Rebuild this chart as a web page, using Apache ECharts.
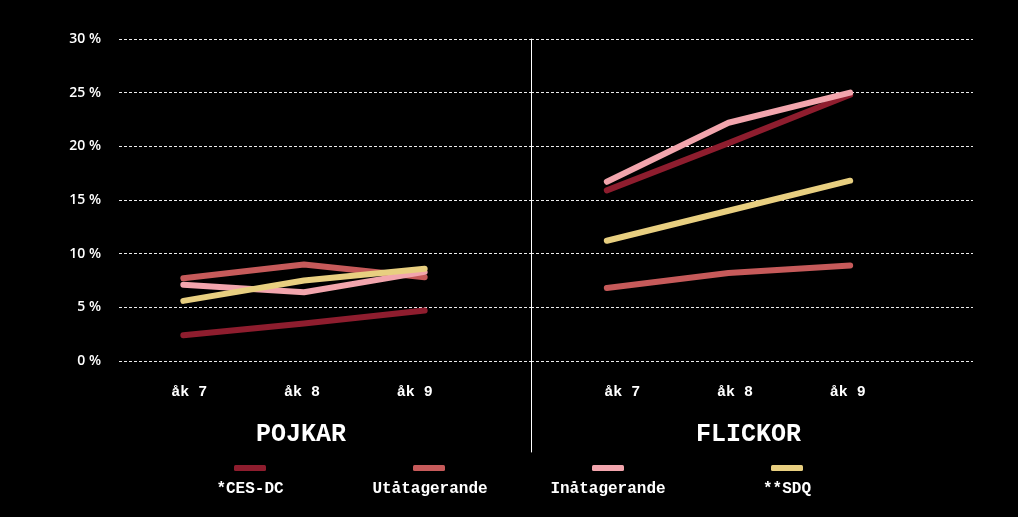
<!DOCTYPE html>
<html>
<head>
<meta charset="utf-8">
<script src="https://cdn.jsdelivr.net/npm/echarts@6/dist/echarts.min.js"></script>
<style>
  html, body { margin: 0; padding: 0; background: #000; }
  #chart { width: 1018px; height: 517px; }
</style>
</head>
<body>
<div id="chart"></div>
<script>
const categories = ['åk 7', 'åk 8', 'åk 9']
const seriesNames = ['*CES-DC', 'Utåtagerande', 'Inåtagerande', '**SDQ']
const panelTitles = ['POJKAR', 'FLICKOR']

// percent values
const boysCes = [2.4, 3.5, 4.7]
const boysUt = [7.7, 9.0, 7.8]
const boysIn = [7.1, 6.4, 8.3]
const boysSdq = [5.6, 7.5, 8.6]

const girlsCes = [15.9, 20.3, 24.8]
const girlsUt = [6.8, 8.2, 8.9]
const girlsIn = [16.7, 22.2, 25.0]
const girlsSdq = [11.2, 14.0, 16.8]

const colors = ['#8e1d2e', '#c65a5a', '#f2a5ad', '#e8cf80']

const chart = echarts.init(document.getElementById('chart'))

const mono = "'Liberation Mono', 'Courier New', monospace"
const gridStyle = { top: 39, bottom: 156 }

function bgY(gridIndex, showLabels) {
  return {
    type: 'value', gridIndex, min: 0, max: 30, interval: 5,
    axisLine: { show: false }, axisTick: { show: false },
    axisLabel: {
      show: showLabels, formatter: '{value} %', color: '#fff', margin: 18,
      fontFamily: "'Open Sans', sans-serif", fontWeight: 600, fontSize: 14
    },
    splitLine: { lineStyle: { color: '#ececec', width: 1, type: [3, 2] } }
  }
}

function hiddenY(gridIndex, max) {
  return {
    type: 'value', gridIndex, min: 0, max,
    axisLine: { show: false }, axisTick: { show: false },
    axisLabel: { show: false }, splitLine: { show: false }
  }
}

function hiddenX(gridIndex) {
  return {
    type: 'category', gridIndex, data: categories,
    axisLine: { show: false }, axisTick: { show: false },
    axisLabel: { show: false }, splitLine: { show: false }
  }
}

function labelX(gridIndex) {
  return {
    type: 'category', gridIndex, data: categories,
    axisLine: { show: false }, axisTick: { show: false },
    axisLabel: { color: '#fff', fontFamily: mono, fontWeight: 'bold', fontSize: 15, margin: 24 },
    splitLine: { show: false }
  }
}

function lineSeries(name, data, axisIndex, colorIndex) {
  return {
    name, type: 'line', data,
    xAxisIndex: axisIndex, yAxisIndex: axisIndex,
    color: colors[colorIndex],
    showSymbol: false, symbol: 'none',
    lineStyle: { width: 6, cap: 'round', join: 'round', color: colors[colorIndex] },
    emphasis: { disabled: true }
  }
}

// one text legend per item so each name sits centred under its icon
const legendCenters = [250, 430, 608, 787]
const legendFont = 16
function textLegend(i) {
  const w = seriesNames[i].length * legendFont * 0.6
  return {
    data: [seriesNames[i]], top: 476, left: legendCenters[i] - w / 2 - 10,
    icon: 'none', itemWidth: 0, itemHeight: 16,
    textStyle: { color: '#fff', fontFamily: mono, fontWeight: 'bold', fontSize: legendFont },
    selectedMode: false
  }
}

const option = {
  backgroundColor: '#000',
  animation: false,
  title: [
    {
      text: panelTitles[0], left: 251, top: 417,
      textStyle: { color: '#fff', fontFamily: mono, fontWeight: 'bold', fontSize: 25 }
    },
    {
      text: panelTitles[1], left: 691, top: 417,
      textStyle: { color: '#fff', fontFamily: mono, fontWeight: 'bold', fontSize: 25 }
    }
  ],
  legend: [
    {
      // icon row
      data: seriesNames, top: 460, left: 229,
      icon: 'roundRect', itemWidth: 32, itemHeight: 6, itemGap: 147,
      formatter: () => '',
      selectedMode: false
    },
    textLegend(0), textLegend(1), textLegend(2), textLegend(3)
  ],
  grid: [
    { left: 119, right: 487, ...gridStyle },       // 0 left background
    { left: 531, right: 45, ...gridStyle },        // 1 right background
    { left: 123, width: 362, ...gridStyle },       // 2 left data
    { left: 546, width: 365, ...gridStyle },       // 3 right data
    { left: 133, width: 338, ...gridStyle },       // 4 left labels
    { left: 566, width: 338, ...gridStyle },       // 5 right labels
    { left: 531, width: 1, top: 39, bottom: 65 }   // 6 divider
  ],
  xAxis: [
    hiddenX(0), hiddenX(1), hiddenX(2), hiddenX(3),
    labelX(4), labelX(5),
    { type: 'value', gridIndex: 6, show: false }
  ],
  yAxis: [
    bgY(0, true), bgY(1, false),
    hiddenY(2, 30), hiddenY(3, 30),
    hiddenY(4, 1), hiddenY(5, 1),
    {
      type: 'value', gridIndex: 6, min: 0, max: 1,
      axisLine: { show: true, lineStyle: { color: '#fff', width: 1 } },
      axisTick: { show: false }, axisLabel: { show: false }, splitLine: { show: false }
    }
  ],
  series: [
    lineSeries(seriesNames[0], boysCes, 2, 0),
    lineSeries(seriesNames[1], boysUt, 2, 1),
    lineSeries(seriesNames[2], boysIn, 2, 2),
    lineSeries(seriesNames[3], boysSdq, 2, 3),
    lineSeries(seriesNames[0], girlsCes, 3, 0),
    lineSeries(seriesNames[1], girlsUt, 3, 1),
    lineSeries(seriesNames[2], girlsIn, 3, 2),
    lineSeries(seriesNames[3], girlsSdq, 3, 3)
  ]
}

chart.setOption(option)
</script>
</body>
</html>
